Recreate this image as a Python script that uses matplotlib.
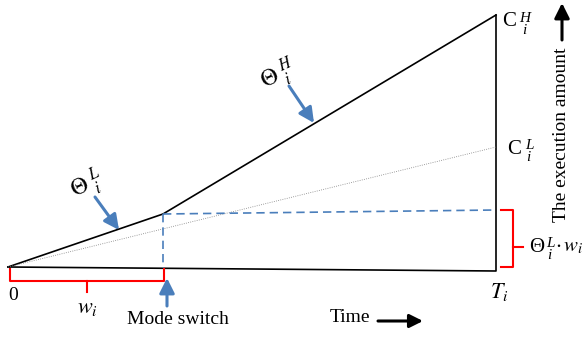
import matplotlib.pyplot as plt
from matplotlib.patches import FancyArrowPatch

plt.rcParams['font.family'] = ['Liberation Serif', 'DejaVu Serif']
plt.rcParams['mathtext.fontset'] = 'stix'

# diagram geometry, in picture units (x right, y down)
origin = (8, 267)
switch_pt = (163, 214)
top_pt = (496, 15)
low_end = (496, 147)
base_end = (496, 271)
dash_end = (496, 210)

blue = '#4a7ebb'

fig = plt.figure(figsize=(5.87, 3.38), dpi=100)
ax = fig.add_axes([0, 0, 1, 1])
ax.set_xlim(0, 587)
ax.set_ylim(338, 0)
ax.axis('off')

# execution curve (LO then HI mode)
ax.plot([origin[0], switch_pt[0], top_pt[0]], [origin[1], switch_pt[1], top_pt[1]],
        color='black', lw=1.2, solid_joinstyle='miter')
# baseline and deadline edge
ax.plot([origin[0], base_end[0], top_pt[0]], [origin[1], base_end[1], top_pt[1]],
        color='black', lw=1.2)
# LO-mode budget line
ax.plot([origin[0], low_end[0]], [origin[1], low_end[1]], color='gray', lw=0.6, ls=':')
# dashed guides at mode switch
ax.plot([switch_pt[0], dash_end[0]], [switch_pt[1], dash_end[1]], color=blue, lw=1.2, dashes=(5, 3))
ax.plot([switch_pt[0], switch_pt[0]], [switch_pt[1], 268], color=blue, lw=1.2, dashes=(5, 3))

# red brackets
ax.plot([10, 10, 164, 164], [269, 281, 281, 269], color='red', lw=1.5)
ax.plot([87, 87], [281, 292], color='red', lw=1.5)
ax.plot([501, 513, 513, 501], [210, 210, 267, 267], color='red', lw=1.5)
ax.plot([513, 523], [247, 247], color='red', lw=1.5)

# blue pointer arrows
for tail, head in [((289, 86), (314, 123)), ((95, 197), (119, 230)), ((167, 306), (167, 278))]:
    ax.add_patch(FancyArrowPatch(tail, head, arrowstyle='-|>,head_length=9,head_width=4.5',
                                 color=blue, lw=2.2, shrinkA=0, shrinkB=0))

# black axis arrows
ax.add_patch(FancyArrowPatch((378, 321), (423, 321), arrowstyle='-|>,head_length=8,head_width=4',
                             color='black', lw=2.2, shrinkA=0, shrinkB=0))
ax.add_patch(FancyArrowPatch((562, 40), (562, 3), arrowstyle='-|>,head_length=9,head_width=4.5',
                             color='black', lw=2.2, shrinkA=0, shrinkB=0))

fs = 14
ms = 15
ss = 11


def stacked(x, y, base, sup, xs):
    # base letter with sup/sub stacked to its right
    ax.text(x, y, base, fontsize=ms, ha='center', va='center')
    ax.text(xs + 1, y + 3, sup, fontsize=ss, ha='center', va='bottom', style='italic')
    ax.text(xs, y + 2, 'i', fontsize=ss, ha='center', va='top', style='italic')


ax.text(13, 296, '0', fontsize=fs, ha='center', va='center')
ax.text(178, 320, 'Mode switch', fontsize=fs, ha='center', va='center')
ax.text(350, 318, 'Time', fontsize=fs, ha='center', va='center')
ax.text(562, 135, 'The execution amount', fontsize=fs, ha='center', va='center', rotation=90)
ax.text(87, 308, r'$w_i$', fontsize=ms + 1, ha='center', va='center')
ax.text(499, 292, r'$T_i$', fontsize=ms + 1, ha='center', va='center')

stacked(509, 22, 'C', 'H', 524)
stacked(514, 149, 'C', 'L', 528)
stacked(537, 247, '\u0398', 'L', 549)
ax.text(555, 247, r'$\cdot\,w_i$', fontsize=ms, ha='left', va='center')

ax.text(279, 76, r'$\Theta\;_i^{H}$', fontsize=17, ha='center', va='center', rotation=25)
ax.text(87, 185, r'$\Theta\;_i^{L}$', fontsize=17, ha='center', va='center', rotation=25)

fig.savefig('out.png', dpi=100)
